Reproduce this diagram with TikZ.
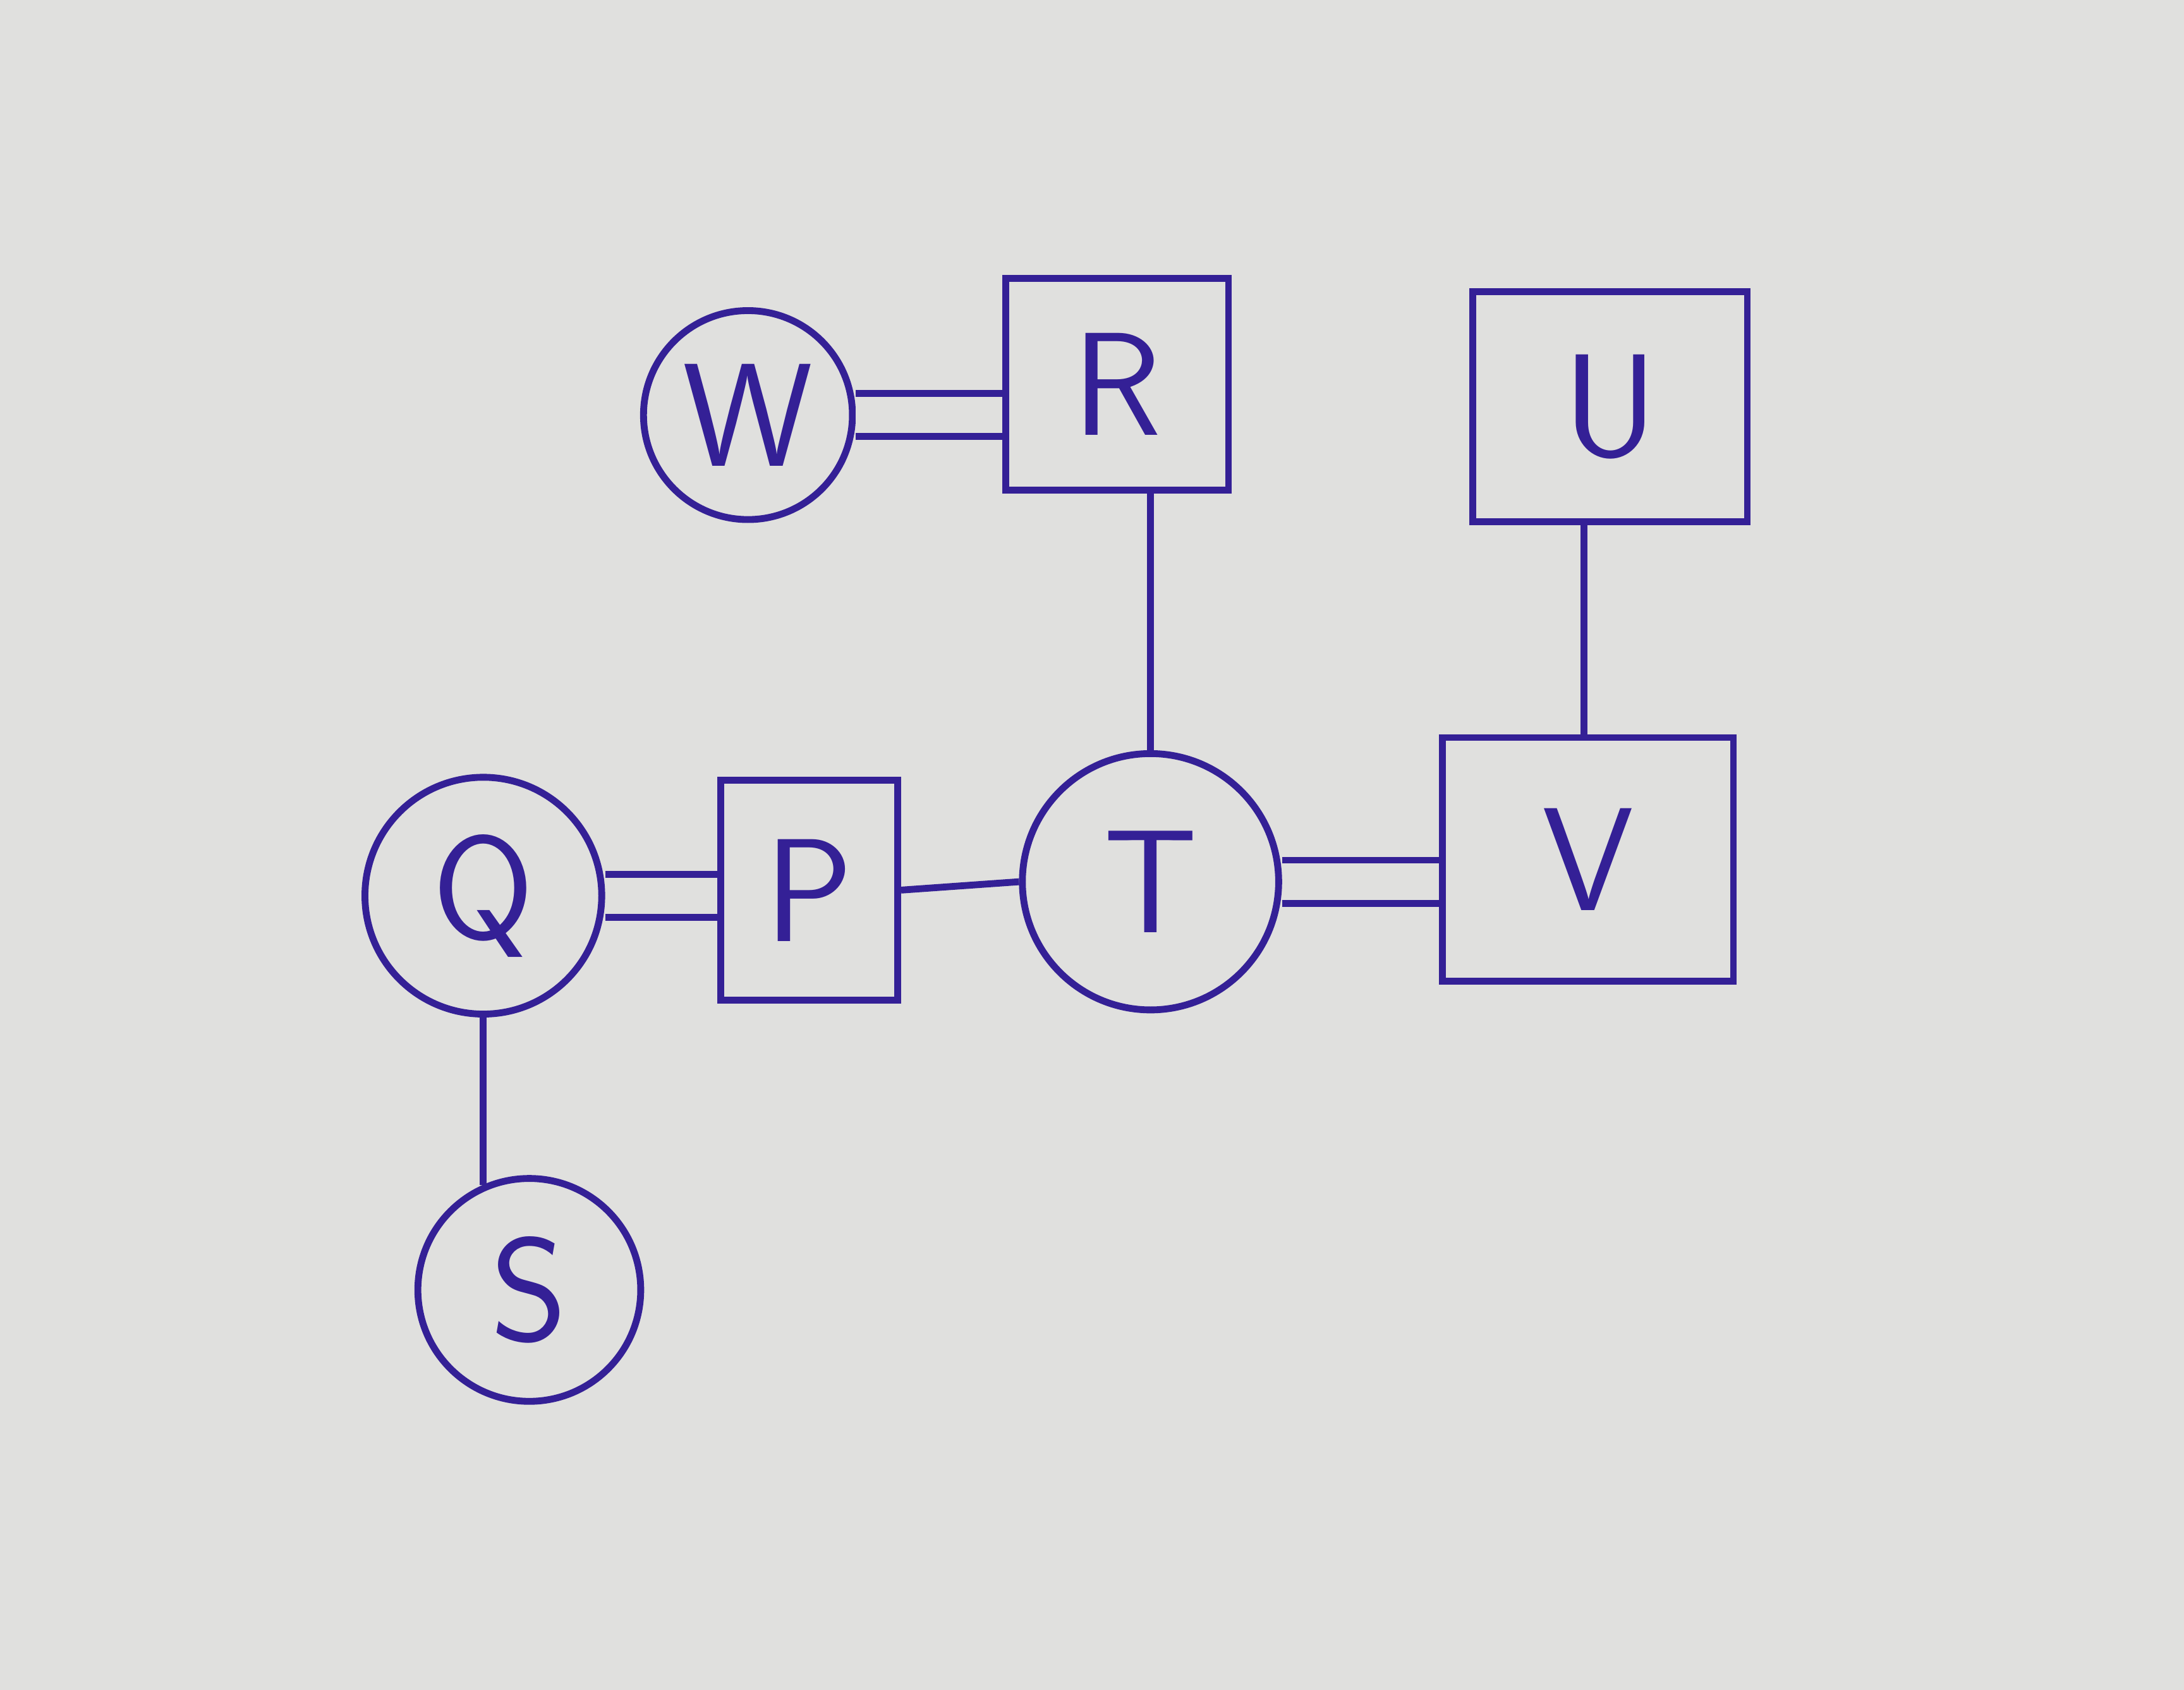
\documentclass[tikz,border=0pt]{standalone}
\usepackage{tikz}
\usetikzlibrary{positioning}

\definecolor{ink}{RGB}{52,32,150}
\definecolor{paper}{RGB}{224,224,222}

\begin{document}
\begin{tikzpicture}[
                          line width=1.4pt,
                          roundnode/.style={circle, draw=ink, text=ink, line width=1.4pt, inner sep=0pt, font=\sffamily\fontsize{30}{36}\selectfont},
                          squarednode/.style={rectangle, draw=ink, text=ink, line width=1.4pt, inner sep=0pt, font=\sffamily\fontsize{30}{36}\selectfont},
                          doubleedge/.style={draw=ink, double=paper, double distance=0.26cm},
                          singleedge/.style={draw=ink},
                      ]
                      %Paper
                      \fill[paper] (0,0) rectangle (15.68,12.13);
                      \useasboundingbox (0,0) rectangle (15.68,12.13);

                      %Nodes
                      \node[roundnode, minimum size=1.5cm]                         (W) at (5.37,9.15)  {W};
                      \node[squarednode, minimum width=1.6cm, minimum height=1.52cm]  (R) at (8.02,9.37)  {R};
                      \node[squarednode, minimum width=1.97cm, minimum height=1.65cm] (U) at (11.56,9.21) {U};
                      \node[roundnode, minimum size=1.7cm]                         (Q) at (3.47,5.70)  {Q};
                      \node[squarednode, minimum width=1.27cm, minimum height=1.58cm] (P) at (5.81,5.74)  {P};
                      \node[roundnode, minimum size=1.84cm]                        (T) at (8.26,5.80)  {T};
                      \node[squarednode, minimum width=2.09cm, minimum height=1.75cm] (V) at (11.40,5.96) {V};
                      \node[roundnode, minimum size=1.6cm]                         (S) at (3.80,2.87)  {S};

                      %Lines
                      \draw[doubleedge] (W.east) -- (R.west |- W.east);
                      \draw[doubleedge] (Q.east) -- (P.west |- Q.east);
                      \draw[doubleedge] (T.east) -- (V.west |- T.east);
                      \draw[singleedge] (T.north |- R.south) -- (T.north);
                      \draw[singleedge] (V.north -| 11.37,0) -- (U.south -| 11.37,0);
                      \draw[singleedge] (P.east) -- (T.west);
                      \draw[singleedge] (Q.south) -- (Q.south |- S.114);
                  \end{tikzpicture}
\end{document}
